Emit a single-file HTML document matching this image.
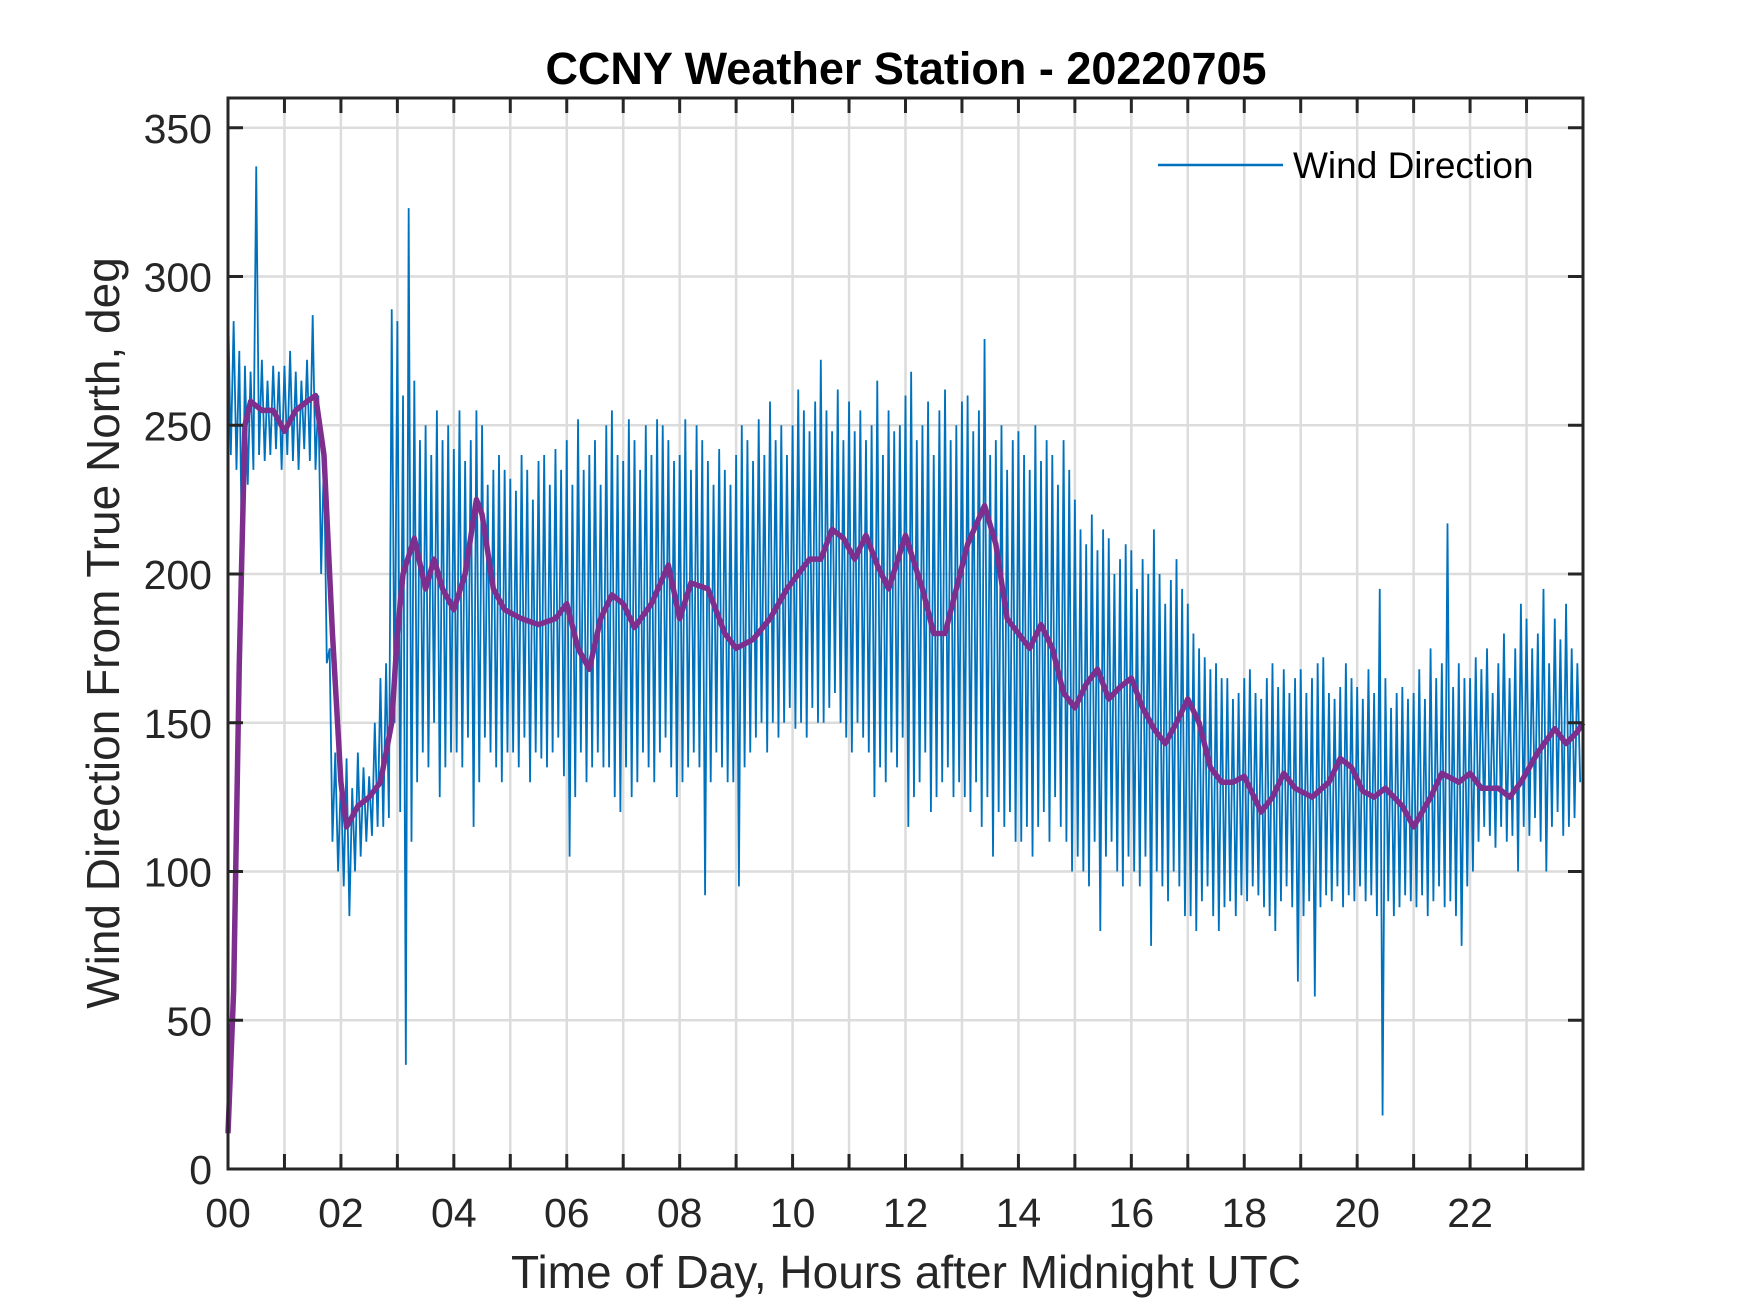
<!DOCTYPE html>
<html><head><meta charset="utf-8"><style>
html,body{margin:0;padding:0;background:#fff}
svg{display:block}
text{font-family:"Liberation Sans",Arial,sans-serif;fill:#262626}
</style></head><body>
<svg id="chart" width="1750" height="1313" viewBox="0 0 1750 1313" xmlns="http://www.w3.org/2000/svg">
<rect x="0" y="0" width="1750" height="1313" fill="#fff"/>
<rect x="228" y="98" width="1355" height="1071" fill="#fff"/>
<g id="grid"></g>
<g id="series"></g>
<g id="axes"></g>
<text x="906" y="84" text-anchor="middle" font-size="45" font-weight="bold" style="fill:#000">CCNY Weather Station - 20220705</text>
<text x="906" y="1288" text-anchor="middle" font-size="46">Time of Day, Hours after Midnight UTC</text>
<text transform="translate(119,633) rotate(-90)" text-anchor="middle" font-size="46">Wind Direction From True North, deg</text>
<g>
<line x1="1158" y1="165" x2="1283" y2="165" stroke="#0072BD" stroke-width="2.5"/>
<text x="1293" y="178" font-size="37" style="fill:#000">Wind Direction</text>
</g>
</svg>
<script>
const xTicks = [0,1,2,3,4,5,6,7,8,9,10,11,12,13,14,15,16,17,18,19,20,21,22,23];
const xTickLabels = ["00","02","04","06","08","10","12","14","16","18","20","22"];
const yTicks = [0,50,100,150,200,250,300,350];
const binHours = 0.1;
const blueHigh = [
292,285,275,270,268,337,272,265,270,268,
270,275,268,265,272,287,260,240,175,140,
132,138,128,140,135,132,150,165,170,289,
285,260,323,265,245,250,240,255,245,250,
242,255,238,245,255,250,230,235,240,235,
232,228,240,235,225,238,240,230,242,235,
245,230,252,235,240,245,230,250,255,240,
238,252,245,235,250,240,252,250,245,238,
240,252,235,250,245,238,230,242,235,230,
240,250,245,238,252,240,258,245,250,240,
250,262,255,248,258,272,255,248,262,245,
258,248,255,245,250,265,240,255,248,250,
260,268,245,250,258,240,255,262,245,250,
258,260,248,255,279,240,245,250,235,245,
248,240,235,250,238,245,240,230,245,235,
225,215,210,220,208,215,212,200,205,210,
208,195,205,200,215,200,190,198,205,195,
190,180,175,172,168,170,165,165,158,160,
165,168,160,158,165,170,162,168,160,165,
168,160,165,170,172,160,158,162,170,165,
162,158,168,160,195,165,155,160,162,158,
160,168,158,175,165,170,217,162,170,165,
165,172,168,175,160,170,180,165,175,190,
185,175,180,195,170,185,178,190,175,170];
const blueLow = [
240,235,200,230,235,240,238,240,242,235,
240,238,235,242,238,235,200,170,110,100,
95,85,100,105,110,112,115,115,118,150,
120,35,110,130,140,135,150,125,135,140,
140,135,145,115,130,145,140,135,130,140,
140,135,145,130,140,138,135,140,145,132,
105,125,140,130,135,140,135,135,125,120,
135,125,130,140,135,130,140,145,135,125,
130,135,140,135,92,130,140,135,130,130,
95,135,140,145,150,140,150,145,150,155,
148,150,145,155,150,150,155,160,150,145,
140,150,145,140,125,135,130,140,135,145,
115,125,130,140,120,125,130,135,125,130,
125,120,130,115,125,105,120,115,120,110,
110,115,105,115,120,110,125,115,110,100,
105,100,95,110,80,105,110,100,95,105,
100,95,105,75,100,95,90,100,95,85,
85,80,90,95,85,80,88,90,85,92,
90,95,92,88,85,80,90,95,88,63,
85,90,58,88,92,90,95,88,92,90,
95,90,92,85,18,90,85,88,92,90,
88,92,85,90,95,88,90,85,75,95,
100,110,115,112,108,115,110,112,100,115,
112,118,110,100,115,120,112,115,118,130];
const avgHours = [0,0.1,0.2,0.3,0.4,0.6,0.8,1.0,1.2,1.4,1.55,1.7,1.85,2.0,2.1,2.3,2.5,2.7,2.9,3.0,3.1,3.3,3.5,3.65,3.8,4.0,4.2,4.4,4.5,4.7,4.9,5.2,5.5,5.8,6.0,6.2,6.4,6.6,6.8,7.0,7.2,7.5,7.8,8.0,8.2,8.5,8.8,9.0,9.3,9.6,9.9,10.1,10.3,10.5,10.7,10.9,11.1,11.3,11.5,11.7,12.0,12.3,12.5,12.7,12.9,13.1,13.4,13.6,13.8,14.0,14.2,14.4,14.6,14.8,15.0,15.2,15.4,15.6,15.8,16.0,16.2,16.4,16.6,16.8,17.0,17.2,17.4,17.6,17.8,18.0,18.3,18.5,18.7,18.9,19.2,19.5,19.7,19.9,20.1,20.3,20.5,20.8,21.0,21.3,21.5,21.8,22.0,22.2,22.5,22.7,22.9,23.2,23.5,23.7,23.9,24.0];
const avgValues = [12,60,170,250,258,255,255,248,255,258,260,240,180,130,115,122,125,130,150,180,200,212,195,205,195,188,200,225,220,195,188,185,183,185,190,175,168,185,193,190,182,190,203,185,197,195,180,175,178,185,195,200,205,205,215,212,205,213,203,195,213,195,180,180,195,210,223,210,185,180,175,183,175,160,155,163,168,158,162,165,155,148,143,150,158,150,135,130,130,132,120,125,133,128,125,130,138,135,127,125,128,122,115,125,133,130,133,128,128,125,130,140,148,143,147,150];

const X0=228, X1=1583, Y0=1169, Y1=98, XMAX=24, YMAX=360;
function xs(h){return X0+(X1-X0)*h/XMAX;}
function ys(v){return Y0-(Y0-Y1)*v/YMAX;}
const NS="http://www.w3.org/2000/svg";
function mk(tag,attrs,parent){const e=document.createElementNS(NS,tag);for(const k in attrs)e.setAttribute(k,attrs[k]);parent.appendChild(e);return e;}
const grid=document.getElementById('grid'), axes=document.getElementById('axes'), series=document.getElementById('series');

xTicks.forEach(h=>{
  if(h>0){const g=mk('line',{x1:xs(h),x2:xs(h),y1:Y0,y2:Y1,stroke:'#dcdcdc','stroke-width':2.5},grid);
  
  }
  const t1=mk('line',{x1:xs(h),x2:xs(h),y1:Y0,y2:Y0-15,stroke:'#262626','stroke-width':3},axes);
  
  
  const t2=mk('line',{x1:xs(h),x2:xs(h),y1:Y1,y2:Y1+15,stroke:'#262626','stroke-width':3},axes);
  
  
});
xTickLabels.forEach((lab,i)=>{
  const t=mk('text',{x:xs(i*2),y:1227,'text-anchor':'middle','font-size':41},axes);
  t.textContent=lab;
  
  
});
yTicks.forEach(v=>{
  if(v>0){const g=mk('line',{x1:X0,x2:X1,y1:ys(v),y2:ys(v),stroke:'#dcdcdc','stroke-width':2.5},grid);
  
  }
  const t1=mk('line',{x1:X0,x2:X0+15,y1:ys(v),y2:ys(v),stroke:'#262626','stroke-width':3},axes);
  
  
  const t2=mk('line',{x1:X1,x2:X1-15,y1:ys(v),y2:ys(v),stroke:'#262626','stroke-width':3},axes);
  
  
  const l=mk('text',{x:212,y:ys(v)+15,'text-anchor':'end','font-size':41},axes);
  l.textContent=String(v);
  
  
});
const frame=mk('rect',{x:X0,y:Y1,width:X1-X0,height:Y0-Y1,fill:'none',stroke:'#262626','stroke-width':3},axes);



let pts=[];
for(let i=0;i<blueHigh.length;i++){
  const h=i*binHours;
  pts.push(xs(h)+','+ys(blueHigh[i]));
  pts.push(xs(h+binHours/2)+','+ys(blueLow[i]));
}
const blue=mk('polyline',{points:pts.join(' '),fill:'none',stroke:'#0072BD','stroke-width':1.8,'stroke-linejoin':'miter'},series);



const ap=avgHours.map((h,i)=>xs(h)+','+ys(avgValues[i])).join(' ');
const purple=mk('polyline',{points:ap,fill:'none',stroke:'#7E2F8E','stroke-width':5.5,'stroke-linejoin':'round'},series);


</script>
</body></html>
